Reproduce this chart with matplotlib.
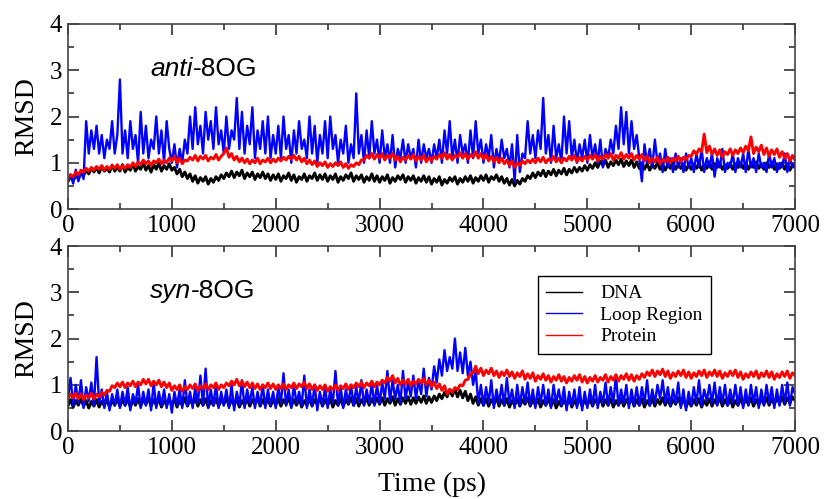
import numpy as np
import matplotlib
matplotlib.use("Agg")
import matplotlib.pyplot as plt
from matplotlib.ticker import MultipleLocator

# time axis, one reading every 25 ps
time_ps = np.arange(0, 7001, 25)

# ---- anti-8OG ----
anti_dna = [0.6,0.7,0.62,0.72,0.68,0.78,0.72,0.85,0.76,0.88,0.8,0.9,0.78,0.92,0.82,0.88,0.8,0.95,0.82,0.9,
            0.82,0.96,0.8,0.9,0.84,0.98,0.82,0.92,0.86,1.0,0.84,0.94,0.8,0.96,0.86,1.0,0.82,0.94,0.86,0.98,
            0.84,0.9,0.76,0.86,0.7,0.8,0.66,0.76,0.6,0.72,0.56,0.68,0.6,0.7,0.54,0.66,0.58,0.7,0.62,0.74,
            0.66,0.78,0.7,0.82,0.68,0.8,0.72,0.84,0.66,0.78,0.7,0.8,0.64,0.76,0.68,0.8,0.66,0.76,0.62,0.74,
            0.64,0.76,0.6,0.72,0.66,0.78,0.62,0.74,0.58,0.7,0.64,0.76,0.6,0.72,0.66,0.78,0.62,0.74,0.64,0.76,
            0.6,0.72,0.64,0.76,0.58,0.7,0.62,0.74,0.66,0.78,0.6,0.72,0.64,0.74,0.58,0.7,0.62,0.76,0.6,0.72,
            0.58,0.7,0.62,0.74,0.56,0.68,0.6,0.72,0.64,0.74,0.58,0.7,0.62,0.72,0.56,0.68,0.6,0.72,0.58,0.7,
            0.54,0.66,0.58,0.7,0.52,0.64,0.56,0.68,0.6,0.7,0.54,0.66,0.58,0.7,0.6,0.72,0.56,0.68,0.6,0.72,
            0.62,0.74,0.58,0.7,0.64,0.74,0.6,0.7,0.56,0.66,0.52,0.64,0.5,0.62,0.54,0.66,0.6,0.72,0.66,0.78,
            0.68,0.8,0.72,0.84,0.7,0.82,0.74,0.86,0.72,0.84,0.76,0.88,0.74,0.86,0.78,0.9,0.8,0.9,0.82,0.94,
            0.84,0.96,0.88,1.0,0.9,1.04,0.94,1.06,0.9,1.02,0.94,1.06,0.96,1.08,0.92,1.04,0.94,1.06,0.9,1.02,
            0.88,1.0,0.86,0.98,0.84,0.96,0.88,1.0,0.86,0.96,0.84,0.98,0.88,1.0,0.86,0.96,0.88,0.98,0.84,0.96,
            0.86,0.98,0.88,1.0,0.84,0.96,0.88,1.02,0.86,0.98,0.9,1.0,0.86,0.96,0.88,1.0,0.86,0.98,0.9,1.0,
            0.88,1.0,0.86,0.98,0.9,1.02,0.88,0.98,0.86,1.0,0.9,1.02,0.86,0.98,0.88,1.0,0.86,0.96,0.84,0.96,
            0.9]
anti_loop = [0.6,0.75,0.55,0.85,0.6,0.8,0.65,1.9,1.2,1.7,1.3,1.8,1.2,1.6,1.1,1.5,1.3,1.9,1.2,1.6,
             2.8,1.2,1.7,1.1,1.9,1.3,1.6,1.0,2.1,1.2,1.8,1.1,1.5,1.3,2.0,1.2,1.7,1.0,1.9,1.3,
             1.0,1.4,0.9,1.3,1.0,1.5,1.2,2.0,1.3,2.2,1.4,1.8,1.2,2.1,1.5,1.9,1.3,2.2,1.4,1.7,
             1.2,2.0,1.3,1.7,1.5,2.4,1.3,2.1,1.2,1.8,1.4,2.2,1.1,1.7,1.3,1.9,1.2,2.0,1.1,1.6,
             1.2,1.8,1.1,2.0,1.3,1.6,1.0,1.7,1.2,1.9,1.3,1.5,1.1,2.0,1.2,1.8,1.0,1.6,1.2,1.9,
             1.1,2.0,1.3,1.6,1.0,1.5,1.2,1.8,1.0,1.4,1.1,2.5,1.2,1.6,1.0,1.7,1.1,1.9,1.2,1.5,
             1.0,1.7,1.1,1.4,1.0,1.6,0.9,1.3,1.1,1.5,1.0,1.4,1.1,1.3,0.9,1.5,1.0,1.4,1.1,1.3,
             1.0,1.4,1.1,1.5,1.0,1.7,1.2,1.9,1.1,1.5,1.0,1.6,1.2,1.4,1.0,1.7,1.1,1.9,1.2,1.5,
             1.0,1.4,1.1,1.6,0.9,1.3,1.0,1.5,1.1,1.3,0.9,1.4,0.6,1.6,0.8,1.2,1.1,1.9,1.2,1.6,
             1.1,1.7,1.3,2.4,1.2,1.6,1.0,1.8,1.1,1.4,1.0,2.0,1.2,1.9,1.1,1.5,1.0,1.4,1.1,1.5,
             1.0,1.6,1.1,1.4,1.0,1.5,0.9,1.3,1.1,1.5,1.2,1.8,1.3,2.2,1.4,2.1,1.2,1.9,1.3,1.6,
             1.1,0.6,1.4,1.0,1.3,0.9,1.5,1.0,1.2,0.8,1.3,0.9,1.1,0.8,1.2,0.9,1.1,0.8,1.2,0.9,
             1.1,0.8,1.2,0.9,1.3,0.8,1.1,0.9,1.2,0.7,1.1,0.9,1.3,0.8,1.0,0.9,1.2,0.8,1.1,0.9,
             1.2,0.8,1.3,0.9,1.1,0.8,1.2,0.9,1.0,0.8,1.2,0.9,1.1,0.8,1.0,0.9,1.2,0.8,1.1,0.9,
             1.0]
anti_protein = [0.66,0.74,0.7,0.8,0.74,0.84,0.8,0.88,0.82,0.9,0.84,0.92,0.86,0.94,0.84,0.92,0.86,0.94,0.88,0.96,
                0.86,0.94,0.88,0.96,0.9,1.0,0.92,1.02,0.96,1.06,0.98,1.04,0.94,1.04,1.0,1.08,0.98,1.06,1.0,1.1,
                1.04,1.14,1.0,1.1,0.98,1.06,1.04,1.12,1.06,1.16,1.04,1.14,1.08,1.16,1.04,1.12,1.08,1.18,1.06,1.14,
                1.2,1.32,1.12,1.2,1.06,1.14,1.02,1.1,1.0,1.08,0.98,1.06,1.0,1.1,0.98,1.06,1.02,1.1,1.0,1.08,
                1.02,1.1,1.04,1.12,1.06,1.14,1.08,1.16,1.06,1.14,1.02,1.1,0.98,1.06,0.96,1.04,0.92,1.0,0.94,1.02,
                0.9,0.98,0.92,1.0,0.94,1.02,0.9,0.98,0.88,0.96,0.92,1.0,0.96,1.06,1.06,1.16,1.1,1.2,1.08,1.18,
                1.1,1.2,1.06,1.16,1.1,1.2,1.06,1.14,1.02,1.12,1.06,1.16,1.08,1.18,1.04,1.14,1.06,1.16,1.02,1.12,
                1.04,1.14,1.08,1.18,1.1,1.22,1.08,1.18,1.06,1.16,1.12,1.22,1.1,1.2,1.08,1.18,1.12,1.24,1.1,1.2,
                1.08,1.18,1.04,1.14,1.02,1.12,1.0,1.1,0.98,1.06,0.94,1.04,0.9,1.0,0.94,1.04,0.98,1.06,1.0,1.08,
                1.0,1.1,1.02,1.12,1.0,1.08,1.04,1.14,1.02,1.1,1.0,1.1,1.04,1.14,1.06,1.16,1.02,1.12,1.04,1.14,
                1.06,1.16,1.08,1.18,1.04,1.14,1.08,1.18,1.1,1.2,1.06,1.16,1.1,1.22,1.08,1.18,1.1,1.2,1.06,1.16,
                1.08,1.18,1.04,1.14,1.0,1.1,1.02,1.12,0.98,1.08,1.02,1.12,1.0,1.1,1.04,1.14,1.02,1.12,1.06,1.16,
                1.14,1.26,1.18,1.3,1.24,1.62,1.22,1.36,1.18,1.3,1.16,1.28,1.12,1.24,1.18,1.3,1.16,1.28,1.2,1.32,
                1.22,1.36,1.26,1.56,1.2,1.34,1.24,1.38,1.18,1.32,1.14,1.28,1.18,1.3,1.12,1.24,1.1,1.2,1.04,1.16,
                1.05]

# ---- syn-8OG ----
syn_dna = [0.55,0.68,0.52,0.66,0.56,0.7,0.54,0.66,0.5,0.64,0.54,0.68,0.52,0.64,0.55,0.68,0.52,0.66,0.56,0.7,
           0.54,0.68,0.56,0.7,0.52,0.66,0.56,0.7,0.54,0.68,0.58,0.72,0.54,0.68,0.56,0.7,0.52,0.66,0.56,0.7,
           0.56,0.7,0.52,0.66,0.56,0.72,0.54,0.68,0.58,0.72,0.54,0.68,0.56,0.7,0.52,0.66,0.56,0.7,0.54,0.68,
           0.58,0.72,0.54,0.68,0.56,0.7,0.52,0.66,0.56,0.7,0.54,0.68,0.58,0.72,0.54,0.68,0.56,0.7,0.54,0.68,
           0.56,0.7,0.54,0.68,0.58,0.72,0.54,0.68,0.56,0.7,0.52,0.66,0.56,0.7,0.54,0.68,0.58,0.72,0.54,0.68,
           0.56,0.7,0.52,0.66,0.56,0.7,0.54,0.68,0.58,0.72,0.56,0.7,0.54,0.68,0.58,0.72,0.56,0.7,0.58,0.72,
           0.58,0.72,0.56,0.7,0.6,0.74,0.56,0.7,0.58,0.72,0.6,0.74,0.58,0.72,0.6,0.74,0.62,0.76,0.6,0.74,
           0.62,0.76,0.66,0.8,0.7,0.84,0.74,0.9,0.76,0.92,0.74,0.88,0.72,0.86,0.66,0.8,0.6,0.74,0.56,0.7,
           0.56,0.7,0.54,0.68,0.58,0.72,0.54,0.68,0.56,0.7,0.52,0.66,0.56,0.7,0.54,0.68,0.58,0.72,0.54,0.68,
           0.56,0.7,0.52,0.66,0.56,0.7,0.54,0.68,0.5,0.64,0.54,0.68,0.56,0.7,0.52,0.66,0.56,0.7,0.54,0.68,
           0.56,0.7,0.54,0.68,0.58,0.72,0.54,0.68,0.56,0.7,0.52,0.66,0.56,0.7,0.54,0.68,0.58,0.72,0.54,0.68,
           0.56,0.7,0.52,0.66,0.56,0.7,0.54,0.68,0.58,0.72,0.56,0.7,0.54,0.68,0.58,0.72,0.56,0.7,0.52,0.66,
           0.54,0.68,0.56,0.7,0.52,0.66,0.56,0.7,0.54,0.68,0.58,0.72,0.54,0.68,0.56,0.7,0.52,0.66,0.56,0.7,
           0.56,0.7,0.58,0.72,0.54,0.68,0.56,0.7,0.58,0.72,0.56,0.7,0.58,0.72,0.6,0.74,0.58,0.72,0.6,0.74,
           0.66]
syn_loop = [0.7,1.15,0.55,1.0,0.6,1.1,0.5,0.95,0.65,1.05,0.55,1.6,0.6,0.9,0.5,0.85,0.45,0.8,0.55,0.9,
            0.5,0.85,0.55,0.95,0.45,0.8,0.6,1.0,0.5,0.85,0.55,0.9,0.45,1.05,0.5,0.85,0.55,0.9,0.5,0.8,
            0.4,0.85,0.55,0.9,0.5,1.1,0.55,0.85,0.5,0.95,0.6,1.2,0.55,1.35,0.5,0.9,0.55,1.0,0.5,0.85,
            0.55,0.9,0.5,1.0,0.45,0.85,0.55,1.1,0.5,0.9,0.6,0.95,0.5,0.85,0.55,1.0,0.5,0.9,0.55,0.85,
            0.5,0.95,0.6,1.25,0.55,0.9,0.5,1.0,0.6,0.85,0.55,1.2,0.5,0.9,0.55,1.0,0.45,0.85,0.55,0.95,
            0.5,0.9,0.6,1.3,0.55,0.95,0.5,0.9,0.6,1.0,0.55,0.95,0.6,1.1,0.55,0.9,0.6,1.05,0.55,1.0,
            0.6,1.05,0.7,1.3,0.65,1.1,0.7,1.0,0.6,1.3,0.7,1.05,0.75,1.2,0.7,1.1,0.8,1.35,0.75,1.15,
            0.9,1.4,1.05,1.55,1.2,1.75,1.3,1.6,1.35,2.0,1.3,1.7,1.25,1.8,1.2,1.5,1.0,1.3,0.6,1.0,
            0.55,0.95,0.6,1.1,0.5,0.9,0.6,1.0,0.55,1.15,0.6,0.9,0.5,1.0,0.55,0.95,0.6,1.05,0.55,0.9,
            0.5,0.95,0.6,1.0,0.55,0.9,0.5,1.0,0.6,0.9,0.55,0.95,0.45,0.85,0.55,0.9,0.5,0.95,0.45,0.85,
            0.5,0.9,0.55,1.0,0.5,0.85,0.6,1.05,0.55,0.95,0.6,1.2,0.55,0.9,0.6,1.0,0.5,0.9,0.55,0.95,
            0.55,0.95,0.6,1.1,0.55,0.9,0.6,1.0,0.7,1.1,0.6,0.95,0.55,0.9,0.6,1.05,0.5,0.9,0.45,0.85,
            0.55,0.95,0.6,1.1,0.55,0.9,0.65,1.0,0.6,1.05,0.55,0.95,0.6,1.0,0.55,0.9,0.6,1.0,0.55,0.95,
            0.5,0.9,0.55,1.0,0.6,0.95,0.5,0.9,0.55,1.0,0.6,0.95,0.5,0.9,0.55,1.0,0.6,1.05,0.55,0.95,
            0.8]
syn_protein = [0.7,0.8,0.72,0.82,0.7,0.8,0.68,0.78,0.72,0.82,0.7,0.8,0.74,0.84,0.78,0.88,0.86,0.98,0.94,1.04,
               0.96,1.06,0.94,1.04,0.98,1.08,0.96,1.06,1.0,1.12,1.02,1.12,0.98,1.08,1.0,1.1,0.96,1.06,0.94,1.04,
               0.88,0.98,0.9,1.0,0.86,0.96,0.9,1.0,0.92,1.02,0.88,0.98,0.92,1.02,0.9,1.0,0.94,1.04,0.9,1.0,
               0.94,1.04,0.98,1.08,1.0,1.12,0.98,1.08,0.96,1.06,0.94,1.04,0.92,1.02,0.9,1.0,0.94,1.04,0.92,1.02,
               0.9,1.0,0.92,1.02,0.9,1.0,0.94,1.04,0.92,1.02,0.96,1.06,0.92,1.02,0.9,1.0,0.88,0.98,0.9,1.0,
               0.86,0.96,0.9,1.0,0.88,0.98,0.92,1.02,0.9,1.0,0.94,1.04,0.96,1.06,0.94,1.04,0.98,1.08,0.96,1.06,
               1.0,1.1,1.04,1.16,1.08,1.2,1.04,1.14,1.0,1.1,1.02,1.12,0.98,1.08,1.02,1.12,1.04,1.14,1.0,1.1,
               0.96,1.06,0.92,1.02,0.88,0.98,0.8,0.9,0.84,0.94,0.9,1.0,0.98,1.1,1.12,1.24,1.26,1.4,1.24,1.36,
               1.2,1.32,1.24,1.36,1.2,1.3,1.16,1.28,1.2,1.32,1.18,1.28,1.14,1.26,1.18,1.3,1.12,1.24,1.14,1.26,
               1.08,1.2,1.12,1.24,1.1,1.2,1.06,1.18,1.1,1.22,1.08,1.18,1.04,1.16,1.08,1.2,1.1,1.22,1.06,1.18,
               1.04,1.16,1.08,1.2,1.06,1.16,1.1,1.22,1.06,1.18,1.1,1.22,1.08,1.2,1.12,1.24,1.1,1.22,1.08,1.2,
               1.12,1.24,1.16,1.28,1.2,1.32,1.18,1.3,1.22,1.34,1.18,1.3,1.14,1.26,1.18,1.3,1.2,1.32,1.16,1.28,
               1.14,1.26,1.18,1.3,1.2,1.32,1.16,1.28,1.2,1.32,1.18,1.3,1.14,1.26,1.18,1.3,1.2,1.32,1.16,1.28,
               1.12,1.24,1.16,1.28,1.18,1.3,1.14,1.26,1.18,1.3,1.16,1.28,1.12,1.24,1.16,1.28,1.18,1.3,1.14,1.26,
               1.2]

serif = "Liberation Serif"
sans = "Liberation Sans"

fig = plt.figure(figsize=(8.31, 4.99), dpi=100)
ax1 = fig.add_axes([0.0818, 0.581, 0.875, 0.371])
ax2 = fig.add_axes([0.0818, 0.136, 0.875, 0.371])

panels = [
    (ax1, anti_dna, anti_loop, anti_protein, "anti"),
    (ax2, syn_dna, syn_loop, syn_protein, "syn"),
]

for ax, dna, loop, prot, tag in panels:
    ax.plot(time_ps, dna, color="black", lw=2.1, label="DNA")
    ax.plot(time_ps, loop, color="#0000ff", lw=1.7, label="Loop Region")
    ax.plot(time_ps, prot, color="#ff0000", lw=2.1, label="Protein")
    ax.set_xlim(0, 7000)
    ax.set_ylim(0, 4)
    ax.xaxis.set_major_locator(MultipleLocator(1000))
    ax.xaxis.set_minor_locator(MultipleLocator(500))
    ax.yaxis.set_major_locator(MultipleLocator(1))
    ax.yaxis.set_minor_locator(MultipleLocator(0.5))
    ax.tick_params(which="both", direction="in", top=True, right=True,
                   colors="#333333", labelcolor="black")
    ax.tick_params(which="major", length=8, width=1.2, labelsize=18, pad=4)
    ax.tick_params(which="minor", length=4, width=1.2)
    for lab in ax.get_xticklabels() + ax.get_yticklabels():
        lab.set_fontfamily(serif)
    for s in ax.spines.values():
        s.set_linewidth(1.2)
        s.set_color("#444444")
    ax.set_ylabel("RMSD", fontfamily=serif, fontsize=20)
    ax.yaxis.set_label_coords(-0.04, 0.5)
    t1 = ax.text(0.113, 0.72, tag, style="italic", fontfamily=sans, fontsize=19,
                 transform=ax.transAxes, ha="left", va="baseline")
    ax.annotate("-8OG", xy=(1, 0), xycoords=t1, ha="left", va="bottom",
                fontfamily=sans, fontsize=19)

ax2.set_xlabel("Time (ps)", fontfamily=serif, fontsize=20)
ax2.xaxis.set_label_coords(0.5, -0.22)

leg = ax2.legend(loc="upper left", bbox_to_anchor=(0.646, 0.838),
                 prop={"family": serif, "size": 14}, frameon=True,
                 fancybox=False, edgecolor="black", framealpha=1,
                 handlelength=1.85, borderpad=0.45, labelspacing=0.2,
                 handletextpad=0.9, borderaxespad=0)
leg.get_frame().set_linewidth(1.0)
for line in leg.get_lines():
    line.set_linewidth(1.0)

fig.savefig("out.png", dpi=100)
